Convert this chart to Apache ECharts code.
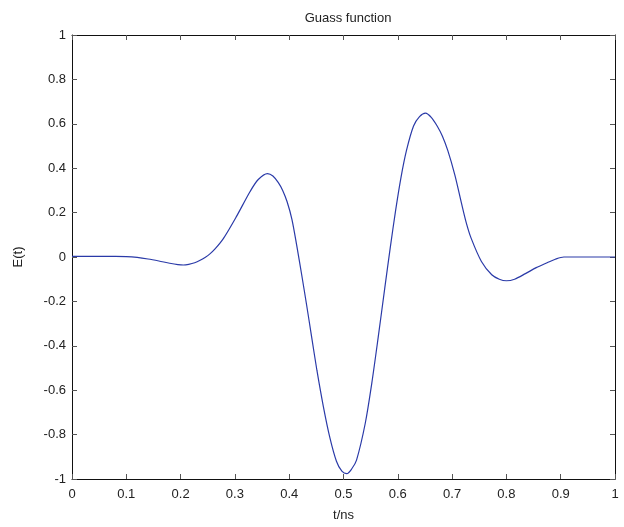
<!DOCTYPE html>
<html>
<head>
<meta charset="utf-8">
<title>Guass function</title>
<script src="https://cdn.jsdelivr.net/npm/echarts@6/dist/echarts.min.js"></script>
<style>
  html, body { margin: 0; padding: 0; background: #ffffff; }
  #chart { width: 624px; height: 527px; }
</style>
</head>
<body>
<div id="chart"></div>
<script>
// Sampled pulse: time (ns) and field amplitude E(t)
const timeNs = [
  0, 0.05, 0.08, 0.1, 0.12, 0.14, 0.16, 0.18, 0.195, 0.205,
  0.215, 0.226, 0.236, 0.245, 0.254, 0.263, 0.279, 0.303, 0.328, 0.343,
  0.36, 0.37, 0.38, 0.388, 0.396, 0.405, 0.414, 0.423, 0.432, 0.441,
  0.451, 0.463, 0.475, 0.487, 0.497, 0.506, 0.515, 0.524, 0.54, 0.552,
  0.564, 0.576, 0.586, 0.596, 0.606, 0.616, 0.629, 0.64, 0.651, 0.662,
  0.673, 0.682, 0.692, 0.705, 0.717, 0.726, 0.735, 0.754, 0.773, 0.787,
  0.8, 0.815, 0.835, 0.855, 0.875, 0.89, 0.906, 0.95, 1.0
];
const fieldE = [
  0.003, 0.003, 0.003, 0.002, -0.002, -0.009, -0.018, -0.028, -0.034, -0.036,
  -0.033, -0.026, -0.015, -0.002, 0.014, 0.035, 0.084, 0.183, 0.295, 0.349,
  0.376, 0.365, 0.335, 0.3, 0.25, 0.17, 0.05, -0.08, -0.215, -0.355,
  -0.51, -0.675, -0.815, -0.92, -0.965, -0.976, -0.955, -0.915, -0.75, -0.57,
  -0.36, -0.14, 0.04, 0.21, 0.36, 0.48, 0.59, 0.632, 0.648, 0.628,
  0.588, 0.545, 0.48, 0.37, 0.245, 0.155, 0.085, -0.02, -0.08, -0.1,
  -0.107, -0.1, -0.075, -0.048, -0.026, -0.01, 0.0, 0.0, 0.0
];
const xTicks = ['0', '0.1', '0.2', '0.3', '0.4', '0.5', '0.6', '0.7', '0.8', '0.9', '1'];
const yTicks = ['-1', '-0.8', '-0.6', '-0.4', '-0.2', '0', '0.2', '0.4', '0.6', '0.8', '1'];

const FONT = '"Liberation Sans", Arial, sans-serif';
const chart = echarts.init(document.getElementById('chart'), null, { renderer: 'canvas' });

const frameLine = { show: true, onZero: false, lineStyle: { color: '#111', width: 1 } };
const innerTick = { show: true, inside: true, length: 5, lineStyle: { color: '#555', width: 1 } };

function fmt(list, min, step) {
  return function (v) {
    const i = Math.round((v - min) / step);
    return list[i] !== undefined ? list[i] : '';
  };
}

chart.setOption({
  animation: false,
  backgroundColor: '#ffffff',
  title: {
    text: 'Guass function',
    left: 343,
    top: 7,
    textAlign: 'center',
    textStyle: { fontFamily: FONT, fontSize: 13, fontWeight: 'normal', color: '#222' }
  },
  grid: { left: 72, right: 9, top: 35, bottom: 46, containLabel: false },
  xAxis: [
    {
      type: 'value', position: 'bottom', min: 0, max: 1, interval: 0.1,
      name: 't/ns', nameLocation: 'middle', nameGap: 30,
      nameTextStyle: { fontFamily: FONT, fontSize: 13, color: '#222' },
      axisLine: frameLine, axisTick: innerTick, splitLine: { show: false },
      axisLabel: { fontFamily: FONT, fontSize: 13, color: '#222', margin: 9, formatter: fmt(xTicks, 0, 0.1) }
    },
    {
      type: 'value', position: 'top', min: 0, max: 1, interval: 0.1,
      axisLine: frameLine, axisTick: innerTick, splitLine: { show: false },
      axisLabel: { show: false }
    }
  ],
  yAxis: [
    {
      type: 'value', position: 'left', min: -1, max: 1, interval: 0.2,
      name: 'E(t)', nameLocation: 'middle', nameGap: 47, nameRotate: 90,
      nameTextStyle: { fontFamily: FONT, fontSize: 13, color: '#222' },
      axisLine: frameLine, axisTick: innerTick, splitLine: { show: false },
      axisLabel: { fontFamily: FONT, fontSize: 13, color: '#222', margin: 6, formatter: fmt(yTicks, -1, 0.2) }
    },
    {
      type: 'value', position: 'right', min: -1, max: 1, interval: 0.2,
      axisLine: frameLine, axisTick: innerTick, splitLine: { show: false },
      axisLabel: { show: false }
    }
  ],
  series: [
    {
      type: 'line',
      xAxisIndex: 0, yAxisIndex: 0,
      data: timeNs.map((t, i) => [t, fieldE[i]]),
      smooth: 0.3,
      showSymbol: false,
      lineStyle: { color: '#2a3aa8', width: 1.2 }
    }
  ]
});
</script>
</body>
</html>
